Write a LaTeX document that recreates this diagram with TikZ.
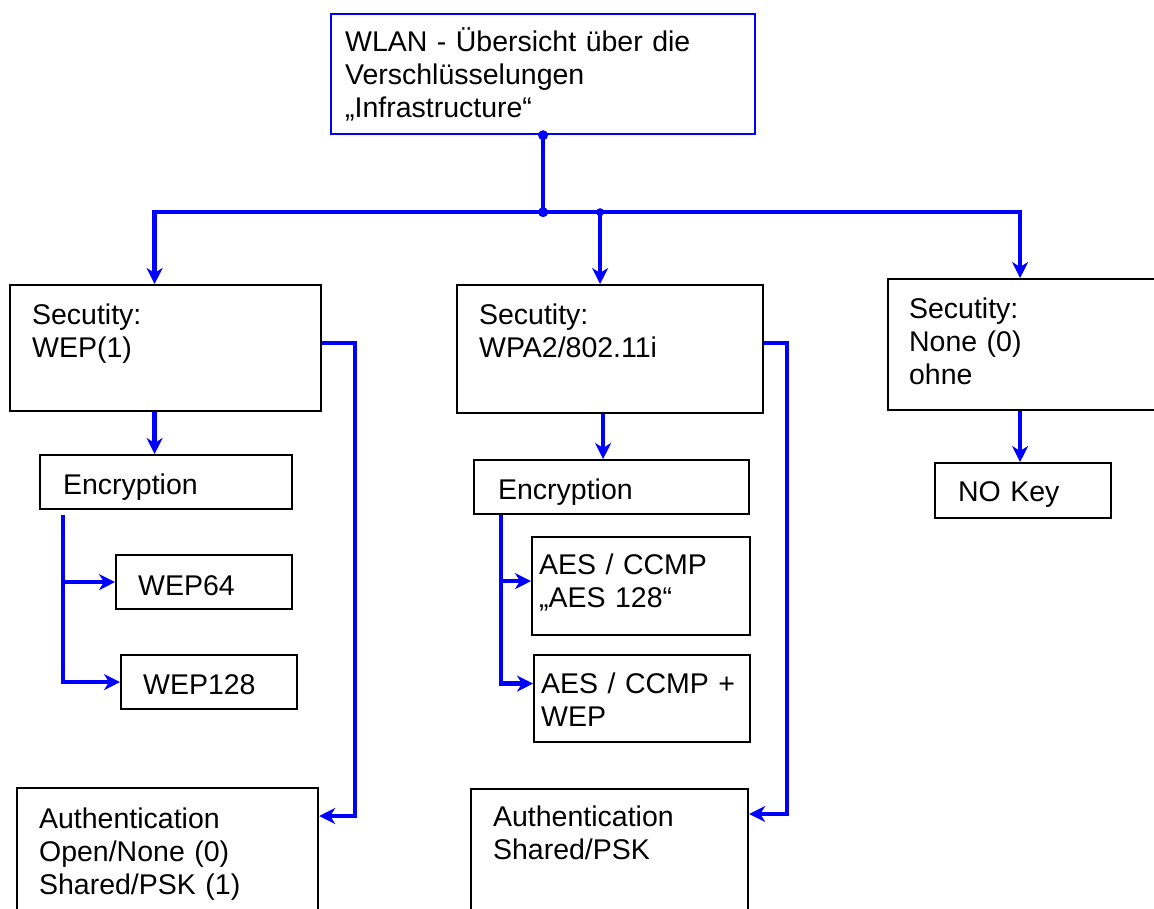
\documentclass[tikz,border=0pt]{standalone}
\usepackage{fontspec}
\setmainfont{Liberation Sans}
\usetikzlibrary{arrows.meta}
\newcommand{\boxfont}{\fontsize{28.5}{33}\selectfont}

\tikzset{
  box/.style={draw, line width=2.2pt, anchor=north west, align=left,
    inner ysep=0pt, inner xsep=22pt, font=\boxfont},
  conn/.style={blue, line width=4.5pt},
  arr/.style={conn, -{Stealth[length=16pt,width=16pt,inset=5pt]}},
}

\begin{document}
\begin{tikzpicture}[x=1pt,y=-1pt]
  \useasboundingbox (0,0) rectangle (1154,908);

  % title
  \node[box, draw=blue, inner xsep=14pt, text width=396pt, text height=37pt, text depth=83pt] (title) at (330,13) {WLAN - Übersicht über die\\Verschlüsselungen\\„Infrastructure“};

  % security level
  \node[box, text width=267pt, text height=39pt, text depth=87pt] (secwep) at (9,284) {Secutity:\\WEP(1)};
  \node[box, text width=262pt, text height=39pt, text depth=89pt] (secwpa) at (456,284) {Secutity:\\WPA2/802.11i};
  \node[box, inner xsep=21pt, text width=238pt, text height=39pt, text depth=92pt] (secnone) at (887,278) {Secutity:\\None (0)\\ohne};

  % encryption
  \node[box, inner xsep=23pt, text width=206pt, text height=39pt, text depth=15pt] (encwep) at (39,454) {Encryption};
  \node[box, inner xsep=24pt, text width=227pt, text height=39pt, text depth=15pt] (encwpa) at (473,459) {Encryption};
  \node[box, text width=132pt, text height=40pt, text depth=14pt] (wep64) at (115,554) {WEP64};
  \node[box, text width=132pt, text height=39pt, text depth=15pt] (wep128) at (120,654) {WEP128};
  \node[box, inner xsep=7pt, text width=204pt, text height=37pt, text depth=61pt] (aes) at (531,536) {AES / CCMP\\„AES 128“};
  \node[box, inner xsep=7pt, text width=202pt, text height=38pt, text depth=49pt] (aeswep) at (533,654) {AES / CCMP +\\WEP};
  \node[box, inner xsep=23pt, text width=130pt, text height=38pt, text depth=17pt] (nokey) at (934,462) {NO Key};

  % authentication
  \node[box, text width=257pt, text height=40pt, text depth=95pt] (authwep) at (16,787) {Authentication\\Open/None (0)\\Shared/PSK (1)};
  \node[box, text width=233pt, text height=37pt, text depth=97pt] (authwpa) at (470,788) {Authentication\\Shared/PSK};

  % bus
  \path (title.south) ++(0,77) coordinate (bus);
  \coordinate (wpatop) at ([xshift=-10pt]secwpa.north);
  \draw[conn] (title.south) -- (bus);
  \draw[arr] (bus) -| ([xshift=-11pt]secwep.north);
  \draw[arr] (bus) -| ([xshift=-8pt]secnone.north);
  \draw[arr] (wpatop |- bus) -- (wpatop);
  \fill[blue] (title.south) circle (5pt);
  \fill[blue] (bus) circle (5pt);
  \fill[blue] (wpatop |- bus) circle (4pt);

  % WEP branch
  \draw[arr] ([xshift=-11pt]secwep.south) coordinate (s1) -- (s1 |- encwep.north);
  \coordinate (ew) at ([xshift=24pt,yshift=-5pt]encwep.south west);
  \draw[arr] (ew) |- (wep64.west);
  \draw[arr] (ew) |- (wep128.west);
  \draw[arr] ([yshift=5pt]secwep.east) -- ++(33,0) |- ([yshift=-29pt]authwep.north east);

  % WPA2 branch
  \draw[arr] ([xshift=-7pt]secwpa.south) coordinate (s2) -- (s2 |- encwpa.north);
  \coordinate (ea) at ([xshift=28pt]encwpa.south west);
  \draw[arr] (ea) |- ([yshift=5pt]aes.west);
  \draw[arr] (ea) |- ([yshift=15pt]aeswep.west);
  \draw[arr] ([yshift=6pt]secwpa.east) -- ++(23,0) |- ([yshift=-26pt]authwpa.north east);

  % no security
  \draw[arr] ([xshift=-8pt]secnone.south) coordinate (s3) -- (s3 |- nokey.north);
\end{tikzpicture}
\end{document}
